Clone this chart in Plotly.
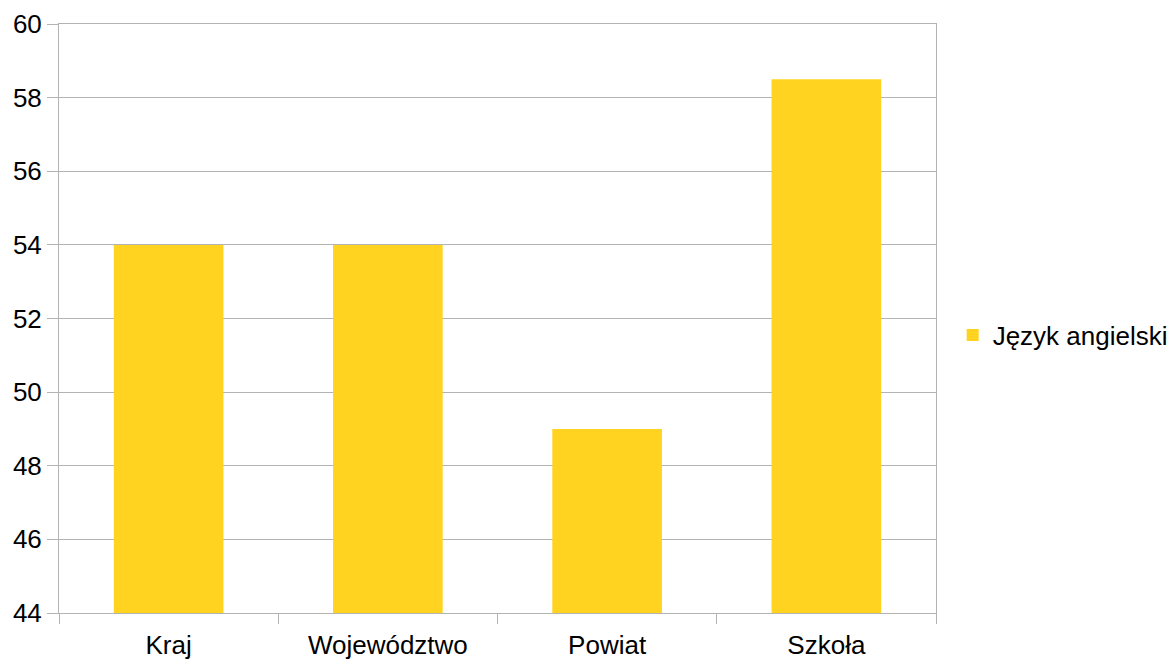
import plotly.graph_objects as go

categories = ["Kraj", "Województwo", "Powiat", "Szkoła"]
values = [54, 54, 49, 58.5]
series_name = "Język angielski"
y_ticks = [44, 46, 48, 50, 52, 54, 56, 58, 60]

fig = go.Figure()
fig.add_trace(go.Bar(x=categories, y=values, name=series_name,
                     marker=dict(color="#ffd320", line=dict(width=0)),
                     width=0.5, showlegend=True))

grid = "#b3b3b3"
fig.update_layout(
    width=1175, height=659,
    margin=dict(l=51, r=247, t=16, b=54, autoexpand=False),
    paper_bgcolor="white", plot_bgcolor="white",
    font=dict(family="Liberation Sans, Arial, sans-serif", size=26, color="black"),
    showlegend=True,
    legend=dict(x=1.019, xanchor="left", y=0.472, yanchor="middle",
                font=dict(size=26), itemsizing="constant",
                bgcolor="rgba(0,0,0,0)"),
    xaxis=dict(type="category", showgrid=False, showline=True, linecolor=grid, linewidth=1,
               mirror=True, ticks="outside", tickson="boundaries", ticklen=10,
               tickcolor=grid, tickfont=dict(size=26), automargin=False,
               ticklabelstandoff=9),
    yaxis=dict(range=[44, 60], tickvals=y_ticks, showgrid=True, gridcolor=grid, gridwidth=1,
               showline=True, linecolor=grid, linewidth=1, mirror=True,
               ticks="outside", ticklen=11, tickcolor=grid, zeroline=False,
               tickfont=dict(size=26), automargin=False),
)
fig.write_html("out.html")
